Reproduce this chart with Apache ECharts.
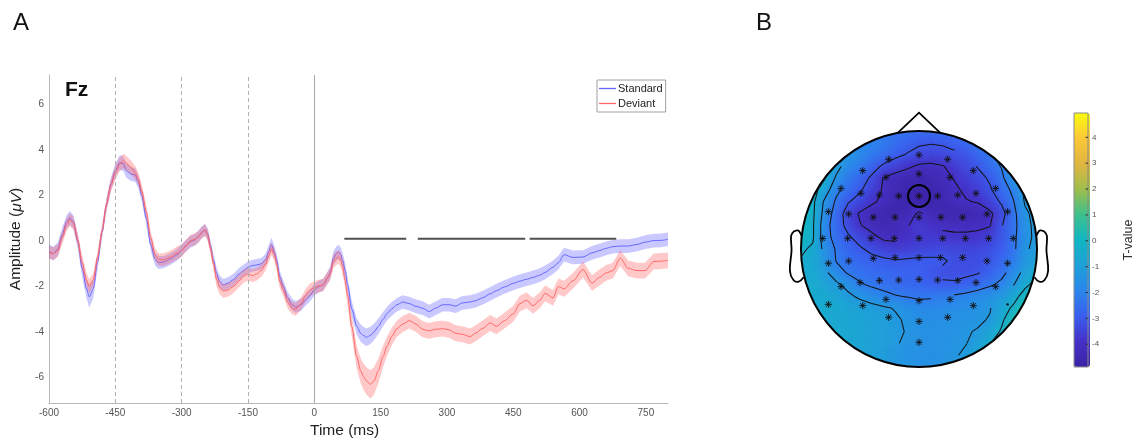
<!DOCTYPE html>
<html>
<head>
<meta charset="utf-8">
<script src="https://cdn.jsdelivr.net/npm/echarts@6/dist/echarts.min.js"></script>
<style>
  html, body { margin: 0; padding: 0; background: #ffffff; }
  #stage { position: relative; width: 1136px; height: 439px; overflow: hidden; }
  #topo { position: absolute; left: 0; top: 0; width: 1136px; height: 439px;
          filter: blur(4px); clip-path: circle(118px at 919px 249px); }
  #chart { position: absolute; left: 0; top: 0; width: 1136px; height: 439px; }
</style>
</head>
<body>
<div id="stage">
  <div id="topo"></div>
  <div id="chart"></div>
</div>
<script>
// ---------- ERP at Fz: grand averages (µV) and standard errors ----------
const time = [
  -600,-590,-580,-570,-560,-553,-545,-535,-525,-515,
  -509,-500,-490,-480,-470,-460,-450,-440,-432,-425,
  -415,-405,-398,-390,-380,-370,-360,-352,-340,-325,
  -310,-300,-290,-280,-270,-262,-255,-247,-241,-235,
  -228,-221,-214,-206,-195,-183,-170,-160,-150,-140,
  -130,-120,-110,-103,-97,-90,-85,-78,-70,-60,
  -50,-42,-30,-20,-10,0,10,20,30,36,
  43,50,55,60,64,70,75,85,96,105,
  111,118,127,135,145,155,165,175,187,200,
  215,230,245,260,275,290,305,320,335,352,
  365,380,398,412,430,450,465,480,495,510,
  522,540,552,565,585,608,628,645,660,675,
  692,710,730,748,768,785,800
];
const standardMean = [
  -0.45,-0.55,-0.35,0.30,0.85,1.02,0.85,0.00,-1.20,-2.10,
  -2.45,-2.10,-0.90,0.40,1.60,2.50,3.10,3.45,3.40,3.10,
  2.95,2.90,2.60,2.00,1.00,-0.15,-0.80,-0.95,-0.92,-0.78,
  -0.60,-0.40,-0.20,-0.03,0.05,0.20,0.38,0.50,0.30,-0.20,
  -0.84,-1.42,-1.78,-1.93,-1.85,-1.70,-1.45,-1.30,-1.16,-1.08,
  -1.05,-1.00,-0.82,-0.45,-0.15,-0.50,-0.84,-1.57,-2.00,-2.50,
  -2.80,-2.90,-2.80,-2.60,-2.40,-2.15,-2.00,-1.93,-1.62,-1.40,
  -0.76,-0.55,-0.48,-0.60,-0.85,-1.30,-1.90,-3.00,-3.75,-4.05,
  -4.15,-4.23,-4.15,-4.00,-3.75,-3.45,-3.18,-2.98,-2.80,-2.68,
  -2.75,-2.87,-2.95,-3.10,-2.95,-2.80,-2.80,-2.86,-2.72,-2.68,
  -2.62,-2.50,-2.32,-2.18,-2.02,-1.86,-1.76,-1.68,-1.60,-1.50,
  -1.38,-1.15,-0.95,-0.60,-0.72,-0.70,-0.52,-0.42,-0.32,-0.25,
  -0.22,-0.22,-0.15,-0.05,0.02,0.03,0.08
];
const standardSE = [
  0.30,0.30,0.30,0.30,0.30,0.30,0.30,0.32,0.38,0.42,
  0.48,0.42,0.32,0.28,0.28,0.28,0.30,0.32,0.32,0.32,
  0.30,0.30,0.28,0.28,0.28,0.28,0.28,0.28,0.26,0.26,
  0.26,0.26,0.26,0.26,0.26,0.26,0.26,0.26,0.26,0.26,
  0.26,0.26,0.26,0.26,0.26,0.26,0.26,0.26,0.26,0.26,
  0.26,0.26,0.26,0.28,0.30,0.28,0.26,0.26,0.26,0.26,
  0.26,0.26,0.26,0.26,0.26,0.26,0.26,0.26,0.26,0.28,
  0.30,0.32,0.32,0.32,0.32,0.32,0.32,0.34,0.36,0.38,
  0.38,0.38,0.38,0.36,0.34,0.32,0.30,0.30,0.30,0.30,
  0.30,0.30,0.30,0.30,0.30,0.30,0.30,0.30,0.30,0.30,
  0.30,0.30,0.30,0.30,0.30,0.30,0.30,0.30,0.30,0.30,
  0.30,0.30,0.30,0.30,0.30,0.30,0.30,0.30,0.30,0.30,
  0.30,0.30,0.30,0.30,0.30,0.30,0.30
];
const deviantMean = [
  -0.50,-0.55,-0.42,0.15,0.72,0.93,0.80,0.05,-0.95,-1.72,
  -1.98,-1.72,-0.70,0.45,1.60,2.45,3.00,3.38,3.52,3.42,
  3.25,3.00,2.75,2.20,1.30,0.15,-0.60,-0.82,-0.82,-0.70,
  -0.52,-0.42,-0.20,0.02,0.08,0.18,0.35,0.48,0.25,-0.30,
  -1.00,-1.70,-2.05,-2.20,-2.15,-2.00,-1.75,-1.55,-1.45,-1.52,
  -1.45,-1.30,-1.02,-0.65,-0.35,-0.60,-1.05,-1.79,-2.15,-2.70,
  -2.95,-3.00,-2.75,-2.40,-2.15,-2.05,-1.98,-1.93,-1.62,-1.45,
  -0.90,-0.75,-0.70,-0.85,-1.13,-1.75,-2.40,-3.77,-5.10,-5.70,
  -5.95,-6.15,-6.30,-6.15,-5.70,-5.10,-4.60,-4.20,-3.85,-3.65,
  -3.50,-3.65,-3.88,-3.95,-3.88,-3.85,-3.90,-4.05,-4.10,-4.20,
  -4.05,-3.85,-3.60,-3.75,-3.50,-3.20,-2.75,-2.60,-2.85,-2.60,
  -2.30,-2.50,-2.00,-2.10,-1.75,-1.25,-1.85,-1.60,-1.40,-1.30,
  -0.75,-1.20,-1.30,-1.30,-0.90,-0.88,-0.85
];
const deviantSE = [
  0.28,0.28,0.28,0.28,0.28,0.28,0.28,0.28,0.30,0.30,
  0.30,0.30,0.28,0.28,0.28,0.28,0.30,0.30,0.32,0.32,
  0.30,0.30,0.28,0.28,0.28,0.28,0.28,0.28,0.28,0.28,
  0.28,0.28,0.26,0.26,0.26,0.26,0.26,0.26,0.26,0.26,
  0.28,0.30,0.30,0.30,0.30,0.28,0.28,0.28,0.28,0.28,
  0.28,0.28,0.28,0.28,0.28,0.28,0.28,0.28,0.28,0.28,
  0.28,0.28,0.28,0.28,0.28,0.28,0.28,0.28,0.28,0.28,
  0.30,0.30,0.30,0.32,0.34,0.36,0.40,0.45,0.50,0.55,
  0.58,0.60,0.62,0.60,0.55,0.48,0.42,0.38,0.36,0.35,
  0.35,0.35,0.35,0.35,0.35,0.35,0.35,0.35,0.35,0.35,
  0.35,0.35,0.35,0.35,0.35,0.35,0.35,0.35,0.35,0.35,
  0.35,0.35,0.35,0.35,0.35,0.35,0.35,0.35,0.35,0.35,
  0.35,0.35,0.35,0.35,0.35,0.35,0.35
];

// Clusters where Standard and Deviant differ (ms), drawn as bars
const sigStart = [68, 234, 487];
const sigEnd   = [208, 477, 683];
const sigLevel = 0.1;

const xTicks = [-600, -450, -300, -150, 0, 150, 300, 450, 600, 750];
const yTicks = [-6, -4, -2, 0, 2, 4, 6];
const cueTimes = [-450, -300, -150];
const onsetTime = 0;

// ---------- Scalp map: electrode layout (head units) ----------
const channels = ['Fp1','Fpz','Fp2','AF7','AF3','AFz','AF4','AF8',
  'F7','F5','F3','F1','Fz','F2','F4','F6','F8',
  'FT7','FC5','FC3','FC1','FCz','FC2','FC4','FC6','FT8',
  'T7','C5','C3','C1','Cz','C2','C4','C6','T8',
  'TP7','CP5','CP3','CP1','CPz','CP2','CP4','CP6','TP8',
  'P7','P5','P3','P1','Pz','P2','P4','P6','P8',
  'P9','PO7','PO3','POz','PO4','PO8','P10','O1','Oz','O2','Iz'];
const elecU = [-0.257,0,0.243, -0.477,-0.280,0,0.263,0.460,
  -0.661,-0.492,-0.336,-0.172,0,0.158,0.328,0.483,0.650,
  -0.768,-0.596,-0.387,-0.203,0,0.186,0.370,0.576,0.751,
  -0.816,-0.605,-0.407,-0.209,0,0.201,0.393,0.590,0.799,
  -0.768,-0.596,-0.387,-0.203,0,0.181,0.370,0.576,0.751,
  -0.661,-0.500,-0.336,-0.172,0,0.158,0.328,0.483,0.650,
  -0.768,-0.477,-0.280,0,0.263,0.460,0.751, -0.257,0,0.243, 0];
const elecV = [0.760,0.797,0.760, 0.664,0.607,0.636,0.607,0.664,
  0.514,0.472,0.458,0.449,0.449,0.449,0.458,0.472,0.514,
  0.316,0.297,0.269,0.269,0.269,0.269,0.269,0.297,0.316,
  0.090,0.090,0.090,0.090,0.090,0.090,0.090,0.090,0.090,
  -0.121,-0.102,-0.079,-0.073,-0.073,-0.073,-0.073,-0.102,-0.121,
  -0.319,-0.285,-0.268,-0.263,-0.257,-0.263,-0.268,-0.285,-0.319,
  -0.469,-0.480,-0.427,-0.438,-0.427,-0.480,-0.469, -0.579,-0.614,-0.579, -0.791];
// 1 = significant channel (asterisk), 0 = not significant (dot)
const elecSig = [1,1,1, 1,1,1,1,1, 1,1,1,1,1,1,1,1,1, 1,1,1,1,1,1,1,1,1,
  1,1,1,1,1,1,1,1,1, 1,1,1,1,1,1,1,1,1, 1,1,1,1,1,1,1,1,1,
  1,1,1,1,1,1,0, 1,1,1, 1];
const markedChannel = 'Fz';

// T-values on a 21 x 21 lattice over the head square (rows top to bottom)
const tGrid = [
  [-0.6,-0.8,-1.0,-1.3,-1.6,-1.9,-2.1,-2.3,-2.4,-2.5,-2.6,-2.6,-2.6,-2.5,-2.4,-2.2,-2.0,-1.8,-1.6,-1.4,-1.3],
  [-0.5,-0.7,-1.0,-1.3,-1.6,-1.85,-2.0,-2.2,-2.5,-2.8,-3.0,-3.05,-3.0,-2.85,-2.6,-2.35,-2.1,-1.9,-1.7,-1.5,-1.4],
  [-0.4,-0.6,-0.8,-1.1,-1.3,-1.8,-2.2,-2.55,-2.9,-3.15,-3.35,-3.45,-3.4,-3.25,-3.1,-2.7,-2.3,-2.0,-1.7,-1.5,-1.4],
  [-0.3,-0.5,-0.7,-1.0,-1.75,-2.2,-2.75,-3.25,-3.55,-3.85,-4.15,-4.2,-4.05,-3.7,-3.35,-3.05,-2.6,-2.15,-1.8,-1.5,-1.3],
  [-0.2,-0.25,-0.35,-1.45,-2.2,-2.7,-3.25,-4.05,-4.35,-4.5,-4.55,-4.5,-4.3,-3.95,-3.65,-3.35,-3.0,-2.4,-1.4,-1.2,-1.1],
  [-0.1,-0.1,-0.8,-2.0,-2.55,-3.0,-3.55,-4.1,-4.45,-4.65,-4.7,-4.65,-4.45,-4.15,-3.85,-3.55,-3.2,-2.65,-2.0,-1.1,-1.0],
  [-0.1,-0.2,-1.45,-2.35,-3.05,-3.4,-3.85,-4.2,-4.55,-4.75,-4.75,-4.7,-4.5,-4.25,-4.05,-3.95,-3.5,-3.0,-2.25,-1.2,-1.0],
  [-0.1,-0.25,-1.6,-2.6,-3.5,-4.1,-4.45,-4.6,-4.65,-4.4,-3.85,-4.35,-4.6,-4.65,-4.6,-4.45,-4.2,-3.4,-2.45,-1.45,-1.0],
  [-0.1,-0.3,-1.8,-2.7,-3.35,-3.95,-4.3,-4.5,-4.4,-4.05,-3.7,-4.0,-4.15,-4.2,-4.2,-4.15,-4.05,-3.15,-2.5,-1.5,-1.1],
  [-0.05,-0.3,-1.8,-2.55,-3.0,-3.4,-3.8,-4.15,-4.2,-4.0,-3.7,-3.7,-3.8,-3.85,-3.85,-3.8,-3.6,-3.1,-2.4,-1.55,-1.1],
  [-0.3,-0.5,-1.55,-2.3,-2.7,-3.0,-3.3,-3.55,-3.65,-3.6,-3.5,-3.45,-3.35,-3.45,-3.45,-3.4,-3.25,-2.95,-2.4,-1.4,-1.1],
  [-0.45,-0.6,-1.3,-2.25,-2.5,-2.7,-2.85,-2.95,-3.05,-3.0,-2.95,-2.95,-3.0,-3.25,-3.3,-3.25,-3.1,-2.7,-2.2,-1.3,-1.0],
  [-0.5,-0.55,-1.1,-1.8,-2.3,-2.5,-2.6,-2.7,-2.8,-2.85,-2.9,-3.1,-3.25,-3.3,-3.25,-3.15,-2.8,-2.45,-1.8,-1.0,-0.5],
  [-0.5,-0.5,-0.8,-1.15,-1.55,-2.1,-2.35,-2.5,-2.6,-2.7,-2.75,-2.85,-3.0,-3.0,-2.85,-2.65,-2.35,-2.0,-1.35,-0.6,-0.1],
  [-0.5,-0.5,-0.55,-0.8,-1.15,-1.45,-1.7,-1.95,-2.15,-2.25,-2.35,-2.3,-2.2,-2.1,-1.95,-1.75,-1.5,-1.3,-0.75,0.0,0.4],
  [-0.5,-0.5,-0.5,-0.55,-0.75,-0.9,-1.05,-1.2,-1.35,-1.6,-1.8,-1.85,-1.8,-1.7,-1.6,-1.5,-1.35,-0.8,-0.25,0.5,0.8],
  [-0.5,-0.55,-0.6,-0.65,-0.7,-0.8,-0.9,-1.0,-1.2,-1.4,-1.55,-1.6,-1.6,-1.55,-1.45,-1.4,-1.25,-0.55,0.25,0.8,1.0],
  [-0.5,-0.55,-0.6,-0.6,-0.65,-0.75,-0.85,-1.0,-1.15,-1.35,-1.5,-1.55,-1.55,-1.45,-1.35,-1.25,-0.85,-0.3,0.5,1.0,1.2],
  [-0.5,-0.55,-0.6,-0.65,-0.7,-0.75,-0.85,-1.0,-1.25,-1.4,-1.5,-1.55,-1.5,-1.45,-1.32,-1.0,-0.45,0.2,0.8,1.1,1.2],
  [-0.5,-0.55,-0.6,-0.65,-0.7,-0.8,-0.9,-1.1,-1.3,-1.45,-1.55,-1.55,-1.5,-1.38,-1.15,-0.7,-0.1,0.4,0.8,1.0,1.1],
  [-0.5,-0.55,-0.6,-0.65,-0.7,-0.8,-0.9,-1.1,-1.3,-1.45,-1.55,-1.5,-1.45,-1.3,-1.05,-0.6,0.0,0.4,0.7,0.9,1.0]
];
const contourLevels = [-4.0, -3.1, -2.2, -1.3, -0.4, 0.5];
const tRange = [-4.88, 4.94];
const cbarTicks = [-4, -3, -2, -1, 0, 1, 2, 3, 4];

// ---------- styling ----------
const FONT = '"Liberation Sans", Arial, Helvetica, sans-serif';
const parula = ['#3b23a4','#4530c8','#3a5eef','#2a86ec','#1ea0d8','#10b6c2',
                '#3ec08c','#a0be4c','#e0b640','#fcc838','#f9fb0e'];
const STD_LINE = '#6666ff', DEV_LINE = '#ff6666';
const STD_FILL = 'rgba(90,90,255,0.33)', DEV_FILL = 'rgba(255,90,90,0.33)';

// ---------- colour field (separate layer, softened and clipped to the head) ----------
const nRows = tGrid.length, nCols = tGrid[0].length;
const latticeIdx = Array.from({length: nCols}, (_, i) => String(i));
const heatData = [];
tGrid.forEach((row, r) => row.forEach((val, c) => heatData.push([c, nRows - 1 - r, val])));

const topo = echarts.init(document.getElementById('topo'));
topo.setOption({
  animation: false,
  grid: { left: 919 - 1.05 * 118, top: 249 - 1.05 * 118, width: 2.1 * 118, height: 2.1 * 118 },
  xAxis: { type: 'category', data: latticeIdx, show: false },
  yAxis: { type: 'category', data: latticeIdx, show: false },
  visualMap: { type: 'continuous', show: false, min: tRange[0], max: tRange[1],
               inRange: { color: parula } },
  series: [{ type: 'heatmap', data: heatData, itemStyle: { borderWidth: 0 },
             emphasis: { disabled: true }, progressive: 0 }]
});

// ---------- contour segments by marching squares over the lattice ----------
function latticePos(r, c) {
  return [-1 + 2 * c / (nCols - 1), 1 - 2 * r / (nRows - 1)];
}
function edgePoint(p1, v1, p2, v2, lv) {
  const t = (lv - v1) / (v2 - v1);
  return [p1[0] + t * (p2[0] - p1[0]), p1[1] + t * (p2[1] - p1[1])];
}
function clipToHead(a, b) {
  const ina = a[0] * a[0] + a[1] * a[1] <= 1, inb = b[0] * b[0] + b[1] * b[1] <= 1;
  if (ina && inb) return [a, b];
  if (!ina && !inb) return null;
  const p = ina ? a : b, q = ina ? b : a;
  const dx = q[0] - p[0], dy = q[1] - p[1];
  const A = dx * dx + dy * dy, B = 2 * (p[0] * dx + p[1] * dy), C = p[0] * p[0] + p[1] * p[1] - 1;
  const t = (-B + Math.sqrt(B * B - 4 * A * C)) / (2 * A);
  return [p, [p[0] + t * dx, p[1] + t * dy]];
}
const contourSegs = [];
contourLevels.forEach(lv => {
  for (let r = 0; r < nRows - 1; r++) {
    for (let c = 0; c < nCols - 1; c++) {
      const pa = latticePos(r, c), pb = latticePos(r, c + 1),
            pc = latticePos(r + 1, c + 1), pd = latticePos(r + 1, c);
      const va = tGrid[r][c], vb = tGrid[r][c + 1], vc = tGrid[r + 1][c + 1], vd = tGrid[r + 1][c];
      const cross = (x, y) => (x - lv) * (y - lv) < 0;
      const pts = {};
      if (cross(va, vb)) pts.top = edgePoint(pa, va, pb, vb, lv);
      if (cross(vb, vc)) pts.right = edgePoint(pb, vb, pc, vc, lv);
      if (cross(vd, vc)) pts.bottom = edgePoint(pd, vd, pc, vc, lv);
      if (cross(va, vd)) pts.left = edgePoint(pa, va, pd, vd, lv);
      const keys = Object.keys(pts);
      let pairs = [];
      if (keys.length === 2) pairs = [[pts[keys[0]], pts[keys[1]]]];
      else if (keys.length === 4) {
        const centre = (va + vb + vc + vd) / 4;
        if ((va > lv) === (centre > lv)) pairs = [[pts.top, pts.right], [pts.bottom, pts.left]];
        else pairs = [[pts.top, pts.left], [pts.right, pts.bottom]];
      }
      pairs.forEach(([a, b]) => {
        const s = clipToHead(a, b);
        if (s) contourSegs.push([s[0][0], s[0][1], s[1][0], s[1][1], lv]);
      });
    }
  }
});

// ---------- main chart ----------
function bandRenderer(mean, se, fill) {
  return function (params, api) {
    if (params.dataIndex !== 0) return null;
    const upper = [], lower = [];
    for (let i = 0; i < time.length; i++) {
      upper.push(api.coord([time[i], mean[i] + se[i]]));
      lower.push(api.coord([time[i], mean[i] - se[i]]));
    }
    return { type: 'polygon', shape: { points: upper.concat(lower.reverse()) },
             style: { fill: fill } };
  };
}

const electrodeData = channels.map((ch, i) => [elecU[i], elecV[i], elecSig[i]]);
const markIdx = channels.indexOf(markedChannel);

const EAR_U = [0.994, 1.02, 1.036, 1.06, 1.084, 1.08, 1.094, 1.064, 1.02, 0.978];
const EAR_V = [0.111, 0.155, 0.157, 0.149, 0.111, -0.011, -0.186, -0.263, -0.277, -0.240];

const chart = echarts.init(document.getElementById('chart'));
chart.setOption({
  animation: false,
  textStyle: { fontFamily: FONT },
  grid: [
    { left: 49, top: 75, width: 619, height: 328 },
    { left: 801, top: 131, width: 236, height: 236 },
    { left: 1074, top: 113, width: 16, height: 254, show: true, borderColor: '#8a8a8a',
      borderWidth: 1, backgroundColor: 'transparent', z: 10 }
  ],
  xAxis: [
    { gridIndex: 0, type: 'value', min: -600, max: 800,
      axisLine: { onZero: false, lineStyle: { color: '#b8b8b8', width: 1 } },
      axisTick: { show: false }, splitLine: { show: false },
      axisLabel: { customValues: xTicks, color: '#555', fontSize: 10, margin: 5 } },
    { gridIndex: 1, type: 'value', min: -1, max: 1, show: false },
    { gridIndex: 2, type: 'value', min: 0, max: 1, show: false }
  ],
  yAxis: [
    { gridIndex: 0, type: 'value', min: -7.12, max: 7.3,
      axisLine: { show: true, onZero: false, lineStyle: { color: '#b8b8b8', width: 1 } },
      axisTick: { show: false }, splitLine: { show: false },
      axisLabel: { customValues: yTicks, color: '#555', fontSize: 10, margin: 5 },
      name: 'Amplitude ({i|μV})', nameLocation: 'middle', nameGap: 18,
      nameTextStyle: { fontSize: 15.5, color: '#222',
        rich: { i: { fontStyle: 'italic', fontSize: 15.5, color: '#222', fontFamily: FONT } } } },
    { gridIndex: 1, type: 'value', min: -1, max: 1, show: false },
    { gridIndex: 2, type: 'value', min: tRange[0], max: tRange[1], position: 'right', z: 12,
      axisLine: { show: false }, splitLine: { show: false }, axisTick: { show: false },
      axisLabel: { customValues: cbarTicks, color: '#555', fontSize: 8, margin: 4 },
      name: 'T-value', nameLocation: 'middle', nameRotate: 90, nameGap: 34,
      nameTextStyle: { fontSize: 12.5, color: '#333' } }
  ],
  legend: {
    data: [
      { name: 'Standard', icon: 'rect', itemStyle: { color: STD_LINE } },
      { name: 'Deviant', icon: 'rect', itemStyle: { color: DEV_LINE } }
    ],
    orient: 'vertical', left: 597, top: 80,
    itemWidth: 17, itemHeight: 1.3, itemGap: 4, padding: [3, 3, 3, 2],
    borderColor: '#a0a0a0', borderWidth: 1, borderRadius: 0, backgroundColor: '#fff',
    selectedMode: false, textStyle: { fontSize: 11, color: '#222', fontFamily: FONT, padding: [0, 0, 0, -3] }
  },
  visualMap: {
    type: 'continuous', show: true, min: tRange[0], max: tRange[1],
    inRange: { color: parula }, seriesIndex: 9, dimension: 4,
    left: 1074, top: 113, itemWidth: 16, itemHeight: 254, padding: 0,
    calculable: false, hoverLink: false, realtime: false, z: 5
  },
  graphic: [
    { type: 'text', left: 13, top: 11, style: { text: 'A', fontSize: 24, fill: '#111', fontFamily: FONT } },
    { type: 'text', left: 756, top: 11, style: { text: 'B', fontSize: 24, fill: '#111', fontFamily: FONT } },
    { type: 'text', left: 65, top: 80, style: { text: 'Fz', fontSize: 21, fontWeight: 'bold', fill: '#111', fontFamily: FONT } },
    { type: 'text', left: 310, top: 423, style: { text: 'Time (ms)', fontSize: 15.5, fill: '#222', fontFamily: FONT } }
  ],
  series: [
    // 0: cue / onset reference lines
    { type: 'line', name: 'ref', data: [], xAxisIndex: 0, yAxisIndex: 0, z: 0, silent: true,
      markLine: { silent: true, symbol: ['none', 'none'], label: { show: false },
        lineStyle: { color: '#b0b0b0', type: [4, 3], width: 1 },
        data: cueTimes.map(t => ({ xAxis: t }))
          .concat([{ xAxis: onsetTime, lineStyle: { type: 'solid', color: '#a8a8a8', width: 1 } }]) } },
    // 1: standard SE band
    { type: 'custom', name: 'Standard SE', xAxisIndex: 0, yAxisIndex: 0, z: 1, silent: true, clip: true,
      data: time.map((t, i) => [t, standardMean[i] - standardSE[i], standardMean[i] + standardSE[i]]),
      encode: { x: 0, y: [1, 2] }, renderItem: bandRenderer(standardMean, standardSE, STD_FILL) },
    // 2: standard mean
    { type: 'line', name: 'Standard', xAxisIndex: 0, yAxisIndex: 0, z: 2, silent: true,
      data: time.map((t, i) => [t, standardMean[i]]), symbol: 'none', showSymbol: false,
      smooth: 0.3, smoothMonotone: 'x',
      lineStyle: { color: STD_LINE, width: 1 }, itemStyle: { color: STD_LINE } },
    // 3: deviant SE band
    { type: 'custom', name: 'Deviant SE', xAxisIndex: 0, yAxisIndex: 0, z: 3, silent: true, clip: true,
      data: time.map((t, i) => [t, deviantMean[i] - deviantSE[i], deviantMean[i] + deviantSE[i]]),
      encode: { x: 0, y: [1, 2] }, renderItem: bandRenderer(deviantMean, deviantSE, DEV_FILL) },
    // 4: deviant mean
    { type: 'line', name: 'Deviant', xAxisIndex: 0, yAxisIndex: 0, z: 4, silent: true,
      data: time.map((t, i) => [t, deviantMean[i]]), symbol: 'none', showSymbol: false,
      smooth: 0.3, smoothMonotone: 'x',
      lineStyle: { color: DEV_LINE, width: 1 }, itemStyle: { color: DEV_LINE } },
    // 5: significance bars
    { type: 'custom', name: 'clusters', xAxisIndex: 0, yAxisIndex: 0, z: 5, silent: true,
      data: sigStart.map((s, i) => [s, sigEnd[i], sigLevel]),
      encode: { x: [0, 1], y: 2 },
      renderItem: (params, api) => {
        const a = api.coord([api.value(0), api.value(2)]);
        const b = api.coord([api.value(1), api.value(2)]);
        return { type: 'line', shape: { x1: a[0], y1: a[1], x2: b[0], y2: b[1] },
                 style: { stroke: '#505050', lineWidth: 2 } };
      } },
    // 6: head outline, nose and ears
    { type: 'custom', name: 'head', xAxisIndex: 1, yAxisIndex: 1, z: 6, silent: true,
      data: [[0, 0]], encode: { x: 0, y: 1 },
      renderItem: (params, api) => {
        const c = api.coord([0, 0]);
        const rad = api.size([1, 1])[0];
        const P = (u, v) => api.coord([u, v]);
        const earL = EAR_U.map((u, i) => P(-u, EAR_V[i]));
        const earR = EAR_U.map((u, i) => P(u, EAR_V[i]));
        const st = { fill: 'none', stroke: '#000', lineWidth: 1.8 };
        return { type: 'group', children: [
          { type: 'circle', shape: { cx: c[0], cy: c[1], r: rad }, style: { fill: 'none', stroke: '#000', lineWidth: 2 } },
          { type: 'polyline', shape: { points: [P(-0.18, 0.984), P(0, 1.155), P(0.18, 0.984)] }, style: st },
          { type: 'polyline', shape: { points: earL, smooth: 0.4 }, style: st },
          { type: 'polyline', shape: { points: earR, smooth: 0.4 }, style: st }
        ] };
      } },
    // 7: electrodes
    { type: 'custom', name: 'electrodes', xAxisIndex: 1, yAxisIndex: 1, z: 8, silent: true,
      data: electrodeData, encode: { x: 0, y: 1 },
      renderItem: (params, api) => {
        const p = api.coord([api.value(0), api.value(1)]);
        const st = { stroke: '#111', lineWidth: 0.9 };
        if (api.value(2)) {
          const s = 3.6, d = 2.6;
          return { type: 'group', children: [
            { type: 'line', shape: { x1: p[0] - s, y1: p[1], x2: p[0] + s, y2: p[1] }, style: st },
            { type: 'line', shape: { x1: p[0], y1: p[1] - s, x2: p[0], y2: p[1] + s }, style: st },
            { type: 'line', shape: { x1: p[0] - d, y1: p[1] - d, x2: p[0] + d, y2: p[1] + d }, style: st },
            { type: 'line', shape: { x1: p[0] - d, y1: p[1] + d, x2: p[0] + d, y2: p[1] - d }, style: st }
          ] };
        }
        return { type: 'circle', shape: { cx: p[0], cy: p[1], r: 1.2 }, style: { fill: '#111' } };
      } },
    // 8: marked channel
    { type: 'custom', name: 'marked', xAxisIndex: 1, yAxisIndex: 1, z: 9, silent: true,
      data: [[elecU[markIdx], elecV[markIdx]]], encode: { x: 0, y: 1 },
      renderItem: (params, api) => {
        const p = api.coord([api.value(0), api.value(1)]);
        return { type: 'circle', shape: { cx: p[0], cy: p[1], r: 11 },
                 style: { fill: 'none', stroke: '#000', lineWidth: 2 } };
      } },
    // 9: contour lines
    { type: 'custom', name: 'contours', xAxisIndex: 1, yAxisIndex: 1, z: 7, silent: true,
      data: contourSegs, encode: { x: [0, 2], y: [1, 3] },
      renderItem: (params, api) => {
        const a = api.coord([api.value(0), api.value(1)]);
        const b = api.coord([api.value(2), api.value(3)]);
        return { type: 'line', shape: { x1: a[0], y1: a[1], x2: b[0], y2: b[1] },
                 style: { stroke: '#141418', lineWidth: 1.05 } };
      } },
    // 10: colour-bar tick marks along its right edge
    { type: 'custom', name: 'cbarTicks', xAxisIndex: 2, yAxisIndex: 2, z: 20, silent: true,
      data: cbarTicks.map(t => [1, t]), encode: { x: 0, y: 1 },
      renderItem: (params, api) => {
        const p = api.coord([api.value(0), api.value(1)]);
        return { type: 'line', shape: { x1: p[0] - 2.5, y1: p[1], x2: p[0], y2: p[1] },
                 style: { stroke: '#333', lineWidth: 1 } };
      } }
  ]
});
</script>
</body>
</html>
